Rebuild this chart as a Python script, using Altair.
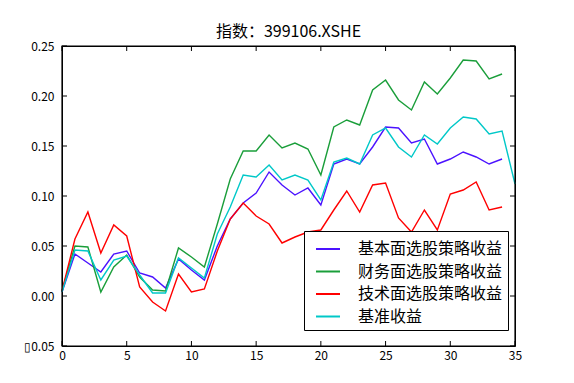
import altair as alt
import pandas as pd

# ---- data ----
series_names = ["基本面选股策略收益", "财务面选股策略收益", "技术面选股策略收益", "基准收益"]
series_colors = ["#4b12ff", "#1a9e3a", "#ff0000", "#00c8c8"]

fundamental = [0.004, 0.042, 0.033, 0.024, 0.042, 0.045, 0.023, 0.019, 0.008, 0.037,
               0.026, 0.016, 0.050, 0.077, 0.093, 0.103, 0.124, 0.111, 0.101, 0.108,
               0.091, 0.132, 0.137, 0.132, 0.149, 0.169, 0.168, 0.153, 0.157, 0.132,
               0.137, 0.144, 0.139, 0.132, 0.137]
financial = [0.005, 0.050, 0.049, 0.004, 0.029, 0.041, 0.019, 0.006, 0.005, 0.048,
             0.039, 0.029, 0.072, 0.117, 0.145, 0.145, 0.161, 0.148, 0.153, 0.147,
             0.121, 0.169, 0.176, 0.171, 0.206, 0.216, 0.196, 0.186, 0.214, 0.202,
             0.218, 0.236, 0.235, 0.217, 0.222]
technical = [0.005, 0.057, 0.084, 0.043, 0.071, 0.060, 0.009, -0.006, -0.015, 0.022,
             0.004, 0.007, 0.045, 0.077, 0.093, 0.080, 0.072, 0.053, 0.059, 0.064,
             0.066, 0.086, 0.105, 0.084, 0.111, 0.113, 0.078, 0.064, 0.086, 0.066,
             0.102, 0.106, 0.114, 0.086, 0.089]
benchmark = [0.004, 0.046, 0.045, 0.016, 0.036, 0.040, 0.021, 0.003, 0.003, 0.038,
             0.028, 0.018, 0.062, 0.089, 0.121, 0.119, 0.131, 0.116, 0.121, 0.116,
             0.096, 0.134, 0.138, 0.132, 0.161, 0.168, 0.149, 0.139, 0.161, 0.152,
             0.168, 0.179, 0.177, 0.162, 0.165, 0.112]

x_ticks = [0, 5, 10, 15, 20, 25, 30, 35]
y_ticks = [-0.05, 0.0, 0.05, 0.10, 0.15, 0.20, 0.25]
title_text = "指数：399106.XSHE"

# ---- build table ----
rows = []
for name, vals in zip(series_names, [fundamental, financial, technical, benchmark]):
    for i, v in enumerate(vals):
        rows.append({"x": i, "value": v, "series": name})
df = pd.DataFrame(rows)

FONT = "Noto Sans CJK SC"
W, H = 453, 300
TL = 5

xscale = alt.Scale(domain=[0, 35], nice=False, zero=False)
yscale = alt.Scale(domain=[-0.05, 0.25], nice=False, zero=False)

xaxis = alt.Axis(values=x_ticks, format="d", title=None, tickSize=0, domain=False,
                 grid=False, labelFont=FONT, labelFontSize=12, labelColor="black",
                 labelPadding=4, labelFlush=False)
yaxis = alt.Axis(values=y_ticks, format=".2f", title=None, tickSize=0, domain=False,
                 grid=False, labelFont=FONT, labelFontSize=12, labelColor="black",
                 labelPadding=8, labelFlush=False,
                 labelExpr="replace(replace(datum.label, '−', '▯'), '-', '▯')")

lines = alt.Chart(df).mark_line(strokeWidth=1.4).encode(
    x=alt.X("x:Q", scale=xscale, axis=xaxis),
    y=alt.Y("value:Q", scale=yscale, axis=yaxis),
    color=alt.Color("series:N",
                    scale=alt.Scale(domain=series_names, range=series_colors),
                    sort=series_names,
                    legend=alt.Legend(orient="none", legendX=242, legendY=185, title=None,
                                      strokeColor="black", fillColor="white", padding=5,
                                      symbolType="stroke", symbolSize=576,
                                      symbolStrokeWidth=2, symbolOffset=6, labelOffset=17,
                                      labelFont=FONT, labelFontSize=16, labelColor="black",
                                      rowPadding=1.5, cornerRadius=0)),
    detail="series:N",
)

xt = pd.DataFrame({"x": x_ticks})
yt = pd.DataFrame({"value": y_ticks})

xt_bottom = alt.Chart(xt).mark_rule(color="black", strokeWidth=1).encode(
    x=alt.X("x:Q", scale=xscale, axis=xaxis), y=alt.value(H), y2=alt.value(H - TL))
xt_top = alt.Chart(xt).mark_rule(color="black", strokeWidth=1).encode(
    x=alt.X("x:Q", scale=xscale, axis=xaxis), y=alt.value(0), y2=alt.value(TL))
yt_left = alt.Chart(yt).mark_rule(color="black", strokeWidth=1).encode(
    y=alt.Y("value:Q", scale=yscale, axis=yaxis), x=alt.value(0), x2=alt.value(TL))
yt_right = alt.Chart(yt).mark_rule(color="black", strokeWidth=1).encode(
    y=alt.Y("value:Q", scale=yscale, axis=yaxis), x=alt.value(W - TL), x2=alt.value(W))

frame = alt.Chart(pd.DataFrame({"k": [0]})).mark_rect(
    fill=None, fillOpacity=0, stroke="black", strokeWidth=1.2
).encode(x=alt.value(0), x2=alt.value(W), y=alt.value(0), y2=alt.value(H))

chart = alt.layer(lines, xt_bottom, xt_top, yt_left, yt_right, frame).properties(
    width=W, height=H,
    background="white",
    title=alt.TitleParams(title_text, font=FONT, fontSize=16, fontWeight="normal",
                          color="black", anchor="middle", offset=0),
    autosize=alt.AutoSizeParams(type="none"),
    padding={"left": 54, "top": 38, "right": 12, "bottom": 30},
).configure_view(stroke="black", strokeWidth=1)

chart.save("out.html", embed_options={"renderer": "svg", "actions": False})
